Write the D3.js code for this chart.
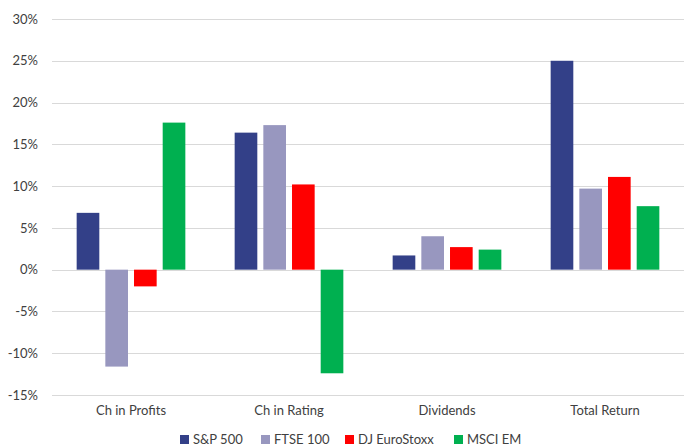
<!DOCTYPE html>
<html>
<head>
<meta charset="utf-8">
<script src="https://cdn.jsdelivr.net/npm/d3@7"></script>
<style>
  html, body { margin: 0; padding: 0; background: #fff; }
  svg { display: block; font-family: Lato, "Open Sans", sans-serif; }
</style>
</head>
<body>
<svg id="chart" width="684" height="447"></svg>
<script>
// Return decomposition by market (percent)
const categories = ["Ch in Profits", "Ch in Rating", "Dividends", "Total Return"];
const seriesNames = ["S&P 500", "FTSE 100", "DJ EuroStoxx", "MSCI EM"];
const sp500 = [6.8, 16.4, 1.7, 25.0];
const ftse100 = [-11.6, 17.3, 4.0, 9.7];
const euroStoxx = [-2.0, 10.2, 2.7, 11.1];
const msciEm = [17.6, -12.4, 2.4, 7.6];
const yTicks = [-15, -10, -5, 0, 5, 10, 15, 20, 25, 30];
const colors = ["#334088", "#9897BF", "#FF0000", "#00B050"];

const seriesValues = [sp500, ftse100, euroStoxx, msciEm];

const svg = d3.select("#chart");
const plot = { left: 52, right: 684, top: 19, bottom: 395 };

const y = d3.scaleLinear().domain([-15, 30]).range([plot.bottom, plot.top]);
const x0 = d3.scaleBand().domain(categories).range([plot.left, plot.right]).padding(0);
const x1 = d3.scaleBand().domain(seriesNames).range([0, x0.bandwidth()])
  .paddingInner(0.21).paddingOuter(0.86);

// Gridlines
svg.append("g")
  .selectAll("line")
  .data(yTicks)
  .join("line")
  .attr("x1", plot.left).attr("x2", plot.right)
  .attr("y1", d => Math.round(y(d)) + 0.5).attr("y2", d => Math.round(y(d)) + 0.5)
  .attr("stroke", "#d9d9d9").attr("stroke-width", 1);

// Y axis labels
const yAxis = d3.axisLeft(y).tickValues(yTicks).tickFormat(d => d + "%").tickSize(0).tickPadding(0);
svg.append("g")
  .attr("transform", `translate(38,0)`)
  .call(yAxis)
  .call(g => g.select(".domain").remove())
  .call(g => g.selectAll("text").attr("font-size", 13).attr("fill", "#404040")
    .attr("font-family", "Lato, 'Open Sans', sans-serif"));

// Bars
const groups = svg.append("g")
  .selectAll("g")
  .data(categories)
  .join("g")
  .attr("transform", d => `translate(${x0(d)},0)`);

groups.selectAll("rect")
  .data((c, ci) => seriesNames.map((s, si) => ({ s, si, v: seriesValues[si][ci] })))
  .join("rect")
  .attr("x", d => x1(d.s))
  .attr("width", x1.bandwidth())
  .attr("y", d => y(Math.max(0, d.v)))
  .attr("height", d => Math.abs(y(d.v) - y(0)))
  .attr("fill", d => colors[d.si]);

// Category labels
const xAxis = d3.axisBottom(x0).tickSize(0).tickPadding(0);
svg.append("g")
  .attr("transform", `translate(0,406)`)
  .call(xAxis)
  .call(g => g.select(".domain").remove())
  .call(g => g.selectAll("text").attr("font-size", 13).attr("fill", "#404040")
    .attr("font-family", "Lato, 'Open Sans', sans-serif"));

// Legend
const legendX = [180, 261, 345, 454];
const legend = svg.append("g")
  .selectAll("g")
  .data(seriesNames)
  .join("g")
  .attr("transform", (d, i) => `translate(${legendX[i]},435)`);
legend.append("rect")
  .attr("width", 9).attr("height", 9)
  .attr("fill", (d, i) => colors[i]);
legend.append("text")
  .attr("x", 13).attr("y", 9)
  .attr("font-size", 13).attr("fill", "#404040")
  .text(d => d);
</script>
</body>
</html>
